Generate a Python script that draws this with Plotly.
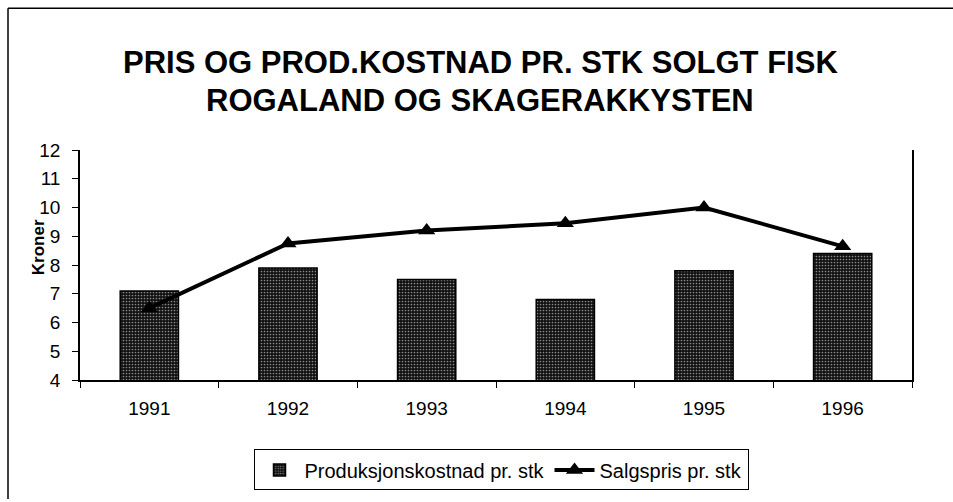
import plotly.graph_objects as go

years = ["1991", "1992", "1993", "1994", "1995", "1996"]
prod_cost = [7.1, 7.9, 7.5, 6.8, 7.8, 8.4]
sales_price = [6.5, 8.75, 9.2, 9.45, 10.0, 8.65]
y_ticks = list(range(4, 13))

W, H = 953, 502
L, R, T, B = 80, 912, 150, 382


def px(x):
    return (x - L) / (R - L)


def py(y):
    return (B - y) / (B - T)


FONT = "Liberation Sans, Arial, sans-serif"

fig = go.Figure()
fig.add_trace(go.Bar(
    x=years, y=prod_cost, name="Produksjonskostnad pr. stk",
    base=0, width=0.42,
    marker=dict(color="#1a1a1a",
                pattern=dict(shape=".", fgcolor="white", bgcolor="#111111",
                             size=3, solidity=0.25),
                line=dict(color="black", width=1.5)),
))
fig.add_trace(go.Scatter(
    x=years, y=sales_price, name="Salgspris pr. stk", mode="lines+markers",
    line=dict(color="black", width=4),
    marker=dict(symbol="triangle-up", size=15, color="black"),
))

fig.update_layout(
    width=W, height=H,
    margin=dict(l=L, r=W - R, t=T, b=H - B),
    paper_bgcolor="white", plot_bgcolor="white",
    font=dict(family=FONT, size=19, color="black"),
    showlegend=True,
    legend=dict(orientation="h", x=px(501), xanchor="center",
                y=py(452), yanchor="top",
                bordercolor="black", borderwidth=1,
                font=dict(size=20), traceorder="normal",
                itemwidth=40, tracegroupgap=0),
    xaxis=dict(showline=True, linecolor="black", linewidth=1.5,
               ticks="outside", ticklen=6, tickcolor="black",
               tickson="boundaries", showgrid=False,
               ticklabelstandoff=10),
    yaxis=dict(range=[4, 12], tickvals=y_ticks, showline=True,
               linecolor="black", linewidth=1.5, mirror=True,
               ticks="outside", ticklen=6, tickcolor="black",
               showgrid=False, zeroline=False, ticklabelstandoff=8),
    bargap=0.58,
)

fig.add_annotation(text="<b>PRIS OG PROD.KOSTNAD PR. STK SOLGT FISK</b>",
                   xref="paper", yref="paper", x=px(480), y=py(62),
                   xanchor="center", yanchor="middle", showarrow=False,
                   font=dict(size=31))
fig.add_annotation(text="<b>ROGALAND OG SKAGERAKKYSTEN</b>",
                   xref="paper", yref="paper", x=px(480), y=py(100),
                   xanchor="center", yanchor="middle", showarrow=False,
                   font=dict(size=31))
fig.add_annotation(text="<b>Kroner</b>", textangle=-90,
                   xref="paper", yref="paper", x=px(38), y=py(248),
                   xanchor="center", yanchor="middle", showarrow=False,
                   font=dict(size=17))

# outer frame (top and left edges, as in the scan)
fig.add_shape(type="line", xref="paper", yref="paper",
              x0=px(8), x1=px(953), y0=py(7), y1=py(7),
              line=dict(color="black", width=1.5))
fig.add_shape(type="line", xref="paper", yref="paper",
              x0=px(8), x1=px(8), y0=py(7), y1=py(502),
              line=dict(color="black", width=1.5))

fig.write_html("out.html",
               config={"displayModeBar": False},
               post_script="document.body.style.margin='0';"
                           "document.body.style.overflow='hidden';")
